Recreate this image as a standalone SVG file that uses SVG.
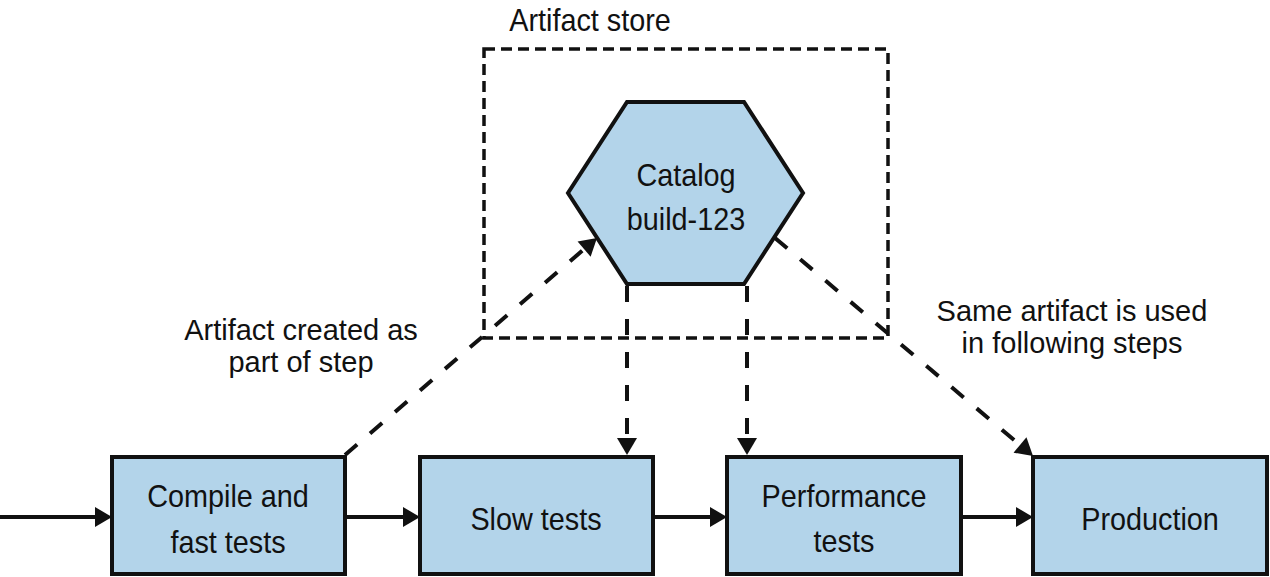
<svg xmlns="http://www.w3.org/2000/svg" width="1270" height="577" viewBox="0 0 1270 577">
  <style>
    .box { fill: #b3d4ea; stroke: #111; stroke-width: 4; }
    .lbl { font-family: "Liberation Sans", Arial, sans-serif; font-size: 32px; fill: #111; text-anchor: middle; }
    .note { font-family: "Liberation Sans", Arial, sans-serif; font-size: 29px; fill: #111; text-anchor: middle; }
    .solid { stroke: #111; stroke-width: 4; fill: none; }
    .dash { stroke: #111; stroke-width: 4; fill: none; stroke-dasharray: 16 17; }
    .store { stroke: #111; stroke-width: 3.5; fill: none; stroke-dasharray: 11 6; }
  </style>
  <defs>
    <marker id="ah" markerUnits="userSpaceOnUse" viewBox="0 -10 17 20" refX="0" refY="0" markerWidth="17" markerHeight="20" orient="auto" overflow="visible">
      <path d="M0,-10 L17,0 L0,10 z" fill="#111"/>
    </marker>
  </defs>
  <rect width="1270" height="577" fill="#fff"/>

  <g id="artifact-store">
    <rect class="store" x="484" y="49" width="404" height="289"/>
    <text class="lbl" transform="translate(590,31) scale(0.9,1)">Artifact store</text>
  </g>

  <g id="catalog">
    <polygon class="box" points="627,102 744,102 803,193 744,284 627,284 568,193"/>
    <text class="lbl" transform="translate(686,186) scale(0.9,1)">Catalog</text>
    <text class="lbl" transform="translate(686,230) scale(0.9,1)">build-123</text>
  </g>

  <g id="compile">
    <rect class="box" x="112" y="457" width="233" height="117"/>
    <text class="lbl" transform="translate(228,507) scale(0.9,1)">Compile and</text>
    <text class="lbl" transform="translate(228,553) scale(0.9,1)">fast tests</text>
  </g>

  <g id="slow">
    <rect class="box" x="420" y="457" width="233" height="117"/>
    <text class="lbl" transform="translate(536,530) scale(0.9,1)">Slow tests</text>
  </g>

  <g id="performance">
    <rect class="box" x="727" y="457" width="234" height="117"/>
    <text class="lbl" transform="translate(844,507) scale(0.9,1)">Performance</text>
    <text class="lbl" transform="translate(844,552) scale(0.9,1)">tests</text>
  </g>

  <g id="production">
    <rect class="box" x="1033" y="457" width="234" height="117"/>
    <text class="lbl" transform="translate(1150,530) scale(0.9,1)">Production</text>
  </g>

  <g id="labels">
    <text class="note" x="301" y="340">Artifact created as</text>
    <text class="note" x="301" y="372">part of step</text>
    <text class="note" x="1072" y="321">Same artifact is used</text>
    <text class="note" x="1072" y="353">in following steps</text>
  </g>

  <g id="connectors">
    <line class="solid" x1="0" y1="517" x2="95" y2="517" marker-end="url(#ah)"/>
    <line class="solid" x1="347" y1="517" x2="403" y2="517" marker-end="url(#ah)"/>
    <line class="solid" x1="655" y1="517" x2="710" y2="517" marker-end="url(#ah)"/>
    <line class="solid" x1="963" y1="517" x2="1016" y2="517" marker-end="url(#ah)"/>
    <line class="dash" x1="627" y1="286" x2="627" y2="438" marker-end="url(#ah)"/>
    <line class="dash" x1="747" y1="286" x2="747" y2="438" marker-end="url(#ah)"/>
    <line class="dash" x1="345" y1="455" x2="584.1" y2="249.1" marker-end="url(#ah)"/>
    <line class="dash" x1="775" y1="238" x2="1020" y2="445" marker-end="url(#ah)"/>
  </g>
</svg>
